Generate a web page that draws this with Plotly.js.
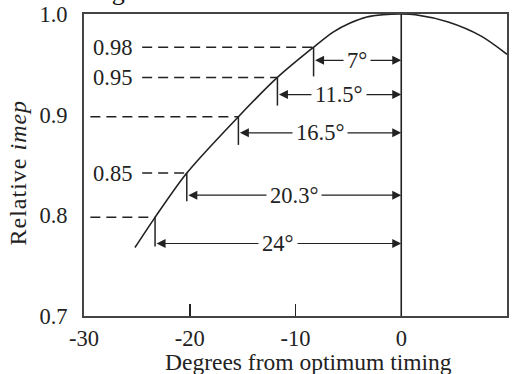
<!DOCTYPE html>
<html>
<head>
<meta charset="utf-8">
<script src="https://cdn.plot.ly/plotly-3.0.1.min.js"></script>
<style>
  html, body { margin: 0; padding: 0; background: #fff; }
  #chart { width: 517px; height: 374px; }
</style>
</head>
<body>
<div id="chart"></div>
<script>
// ---- data ----
const curveX = [-25.18, -23.28, -20.28, -15.40, -11.71, -8.29, -6.44, -4.83, -3.25, -1.71, 0, 1.32, 4.44, 7.56, 10];
const curveY = [0.768, 0.798, 0.842, 0.898, 0.937, 0.967, 0.982, 0.991, 0.997, 0.9993, 1.0, 0.9993, 0.992, 0.978, 0.960];

const levelLabels = ["0.98", "0.95", "0.9", "0.85", "0.8"];
const levelY      = [0.967, 0.937, 0.898, 0.842, 0.798];
const levelX      = [-8.29, -11.71, -15.40, -20.28, -23.28];
const dashStartX  = [-24.5, -24.5, -29.4, -24.5, -29.4];
const showLevelText = [true, true, false, true, false];
const tickBottomY = [0.938, 0.909, 0.870, 0.814, 0.769];
const arrowY      = [0.954, 0.920, 0.882, 0.820, 0.772];
const angleLabels = ["7°", "11.5°", "16.5°", "20.3°", "24°"];
const optimumX = 0;

const xTickVals = [-30, -20, -10, 0, 10];
const xTickText = ["-30", "-20", "-10", "0", "10"];
const yTickVals = [0.7, 0.8, 0.9, 1.0];
const yTickText = ["0.7", "0.8", "0.9", "1.0"];
const xRange = [-30, 10];
const yRange = [0.7, 1.0];

const FONT = "Liberation Serif, Times New Roman, serif";
const INK = "#222222";

const traces = [];
// main curve
traces.push({
  x: curveX, y: curveY, mode: "lines", type: "scatter",
  line: { color: INK, width: 1.6, shape: "spline", smoothing: 0.8 },
  cliponaxis: false, hoverinfo: "skip", showlegend: false
});
// optimum vertical line
traces.push({
  x: [optimumX, optimumX], y: yRange, mode: "lines", type: "scatter",
  line: { color: INK, width: 1.6 }, hoverinfo: "skip", showlegend: false
});
// dashed level lines and vertical ticks
levelY.forEach((ly, i) => {
  traces.push({
    x: [dashStartX[i], levelX[i]], y: [ly, ly], mode: "lines", type: "scatter",
    line: { color: INK, width: 1.5, dash: "10px,6px" }, hoverinfo: "skip", showlegend: false
  });
  traces.push({
    x: [levelX[i], levelX[i]], y: [ly, tickBottomY[i]], mode: "lines", type: "scatter",
    line: { color: INK, width: 1.5 }, hoverinfo: "skip", showlegend: false
  });
});

const annotations = [];
// arrows
arrowY.forEach((ay, i) => {
  annotations.push({
    xref: "x", yref: "y", axref: "x", ayref: "y",
    x: optimumX, y: ay, ax: levelX[i], ay: ay,
    text: "", showarrow: true, arrowside: "end+start",
    arrowhead: 2, startarrowhead: 2, arrowsize: 1.5, startarrowsize: 1.5,
    arrowwidth: 1.2, arrowcolor: INK, standoff: 0, startstandoff: 0
  });
});
// angle labels
angleLabels.forEach((t, i) => {
  annotations.push({
    xref: "x", yref: "y", x: (levelX[i] + optimumX) / 2, y: arrowY[i],
    text: t, showarrow: false, bgcolor: "#ffffff", borderpad: 3,
    font: { family: FONT, size: 22.5, color: INK }, xanchor: "center", yanchor: "middle"
  });
});
// level labels inside plot
levelLabels.forEach((t, i) => {
  if (!showLevelText[i]) return;
  annotations.push({
    xref: "x", yref: "y", x: -27.35, y: levelY[i],
    text: t, showarrow: false,
    font: { family: FONT, size: 22.5, color: INK }, xanchor: "center", yanchor: "middle"
  });
});
// axis titles
annotations.push({
  xref: "paper", yref: "paper", x: 0.5, y: 0, xshift: 13, yshift: -46,
  text: "Degrees from optimum timing", showarrow: false,
  font: { family: FONT, size: 23.5, color: INK }, xanchor: "center", yanchor: "middle"
});
annotations.push({
  xref: "paper", yref: "paper", x: 0, y: 0.5, xshift: -66, yshift: -8,
  text: "Relative <i>imep</i>", showarrow: false, textangle: -90,
  font: { family: FONT, size: 24, color: INK }, xanchor: "center", yanchor: "middle"
});
// page text cut at top
annotations.push({
  xref: "paper", yref: "paper", x: 0, y: 1, xshift: -97, yshift: 23,
  text: "shown in Figure 7.", showarrow: false,
  font: { family: FONT, size: 26, color: "#111" }, xanchor: "left", yanchor: "middle"
});

const layout = {
  width: 517, height: 374,
  margin: { l: 84, r: 10, t: 14, b: 58 },
  paper_bgcolor: "#fff", plot_bgcolor: "#fff",
  showlegend: false,
  font: { family: FONT, size: 22, color: INK },
  xaxis: {
    range: xRange, tickvals: xTickVals, ticktext: xTickText,
    ticks: "inside", ticklen: 12, tickwidth: 1.5, tickcolor: INK,
    showline: true, mirror: true, linecolor: "#444", linewidth: 2,
    showgrid: false, zeroline: false, fixedrange: true,
    tickfont: { family: FONT, size: 22.5, color: INK }, ticklabelstandoff: 1
  },
  yaxis: {
    range: yRange, tickvals: yTickVals, ticktext: yTickText,
    ticks: "", showline: true, mirror: true, linecolor: "#444", linewidth: 2,
    showgrid: false, zeroline: false, fixedrange: true,
    tickfont: { family: FONT, size: 22.5, color: INK }, ticklabelstandoff: 10
  },
  annotations: annotations
};

Plotly.newPlot("chart", traces, layout, { staticPlot: true, displayModeBar: false }).then(() => {
  document.querySelectorAll(".annotation-text").forEach(el => {
    if (el.textContent.indexOf("Relative") === 0) el.style.letterSpacing = "1px";
  });
});
</script>
</body>
</html>
